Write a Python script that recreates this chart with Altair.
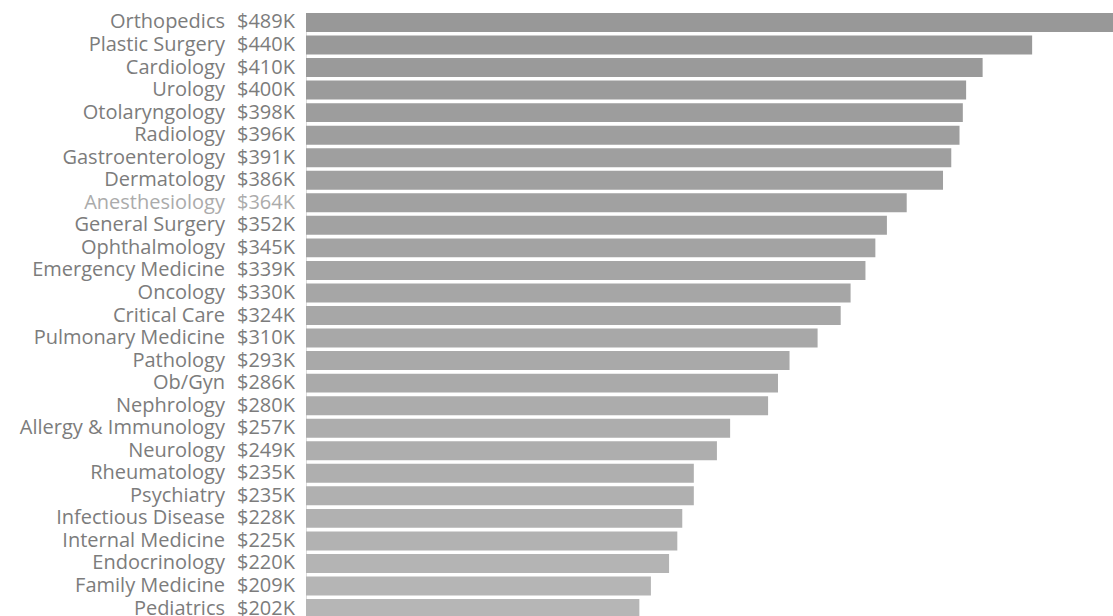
import altair as alt
import pandas as pd

specialties = [
    "Orthopedics", "Plastic Surgery", "Cardiology", "Urology", "Otolaryngology",
    "Radiology", "Gastroenterology", "Dermatology", "Anesthesiology", "General Surgery",
    "Ophthalmology", "Emergency Medicine", "Oncology", "Critical Care", "Pulmonary Medicine",
    "Pathology", "Ob/Gyn", "Nephrology", "Allergy & Immunology", "Neurology",
    "Rheumatology", "Psychiatry", "Infectious Disease", "Internal Medicine", "Endocrinology",
    "Family Medicine", "Pediatrics",
]
salaries_k = [489, 440, 410, 400, 398, 396, 391, 386, 364, 352, 345, 339, 330, 324, 310,
              293, 286, 280, 257, 249, 235, 235, 228, 225, 220, 209, 202]

df = pd.DataFrame({
    "specialty": specialties,
    "salary": salaries_k,
    "rank": list(range(len(specialties))),
})
df["label"] = df["salary"].map(lambda v: f"${v}K")

FONT = "Open Sans"
FS = 20
y_enc = alt.Y("specialty:N", sort=specialties, axis=None,
              scale=alt.Scale(paddingInner=0.16, paddingOuter=0.0))

bars = alt.Chart(df).mark_bar().encode(
    x=alt.X("salary:Q", axis=None, scale=alt.Scale(domain=[0, 489], nice=False)),
    y=y_enc,
    color=alt.Color("rank:Q", legend=None,
                    scale=alt.Scale(domain=[0, len(specialties) - 1],
                                    range=["#989898", "#b6b6b6"])),
)

label_color = alt.condition(alt.datum.specialty == "Anesthesiology",
                            alt.value("#ababab"), alt.value("#7c7c7c"))

names = alt.Chart(df).mark_text(align="right", baseline="middle", font=FONT,
                                fontSize=FS).encode(
    x=alt.value(-81),
    y=y_enc,
    text="specialty:N",
    color=label_color,
)

values = alt.Chart(df).mark_text(align="left", baseline="middle", font=FONT,
                                 fontSize=FS).encode(
    x=alt.value(-69),
    y=y_enc,
    text="label:N",
    color=label_color,
)

chart = alt.layer(bars, names, values).properties(
    width=807, height=605,
    padding={"left": 306, "top": 13, "right": 0, "bottom": 0},
    autosize=alt.AutoSizeParams(type="none"),
).configure_view(stroke=None).configure(background="white")

chart.save("out.html", embed_options={"renderer": "svg", "actions": False})
